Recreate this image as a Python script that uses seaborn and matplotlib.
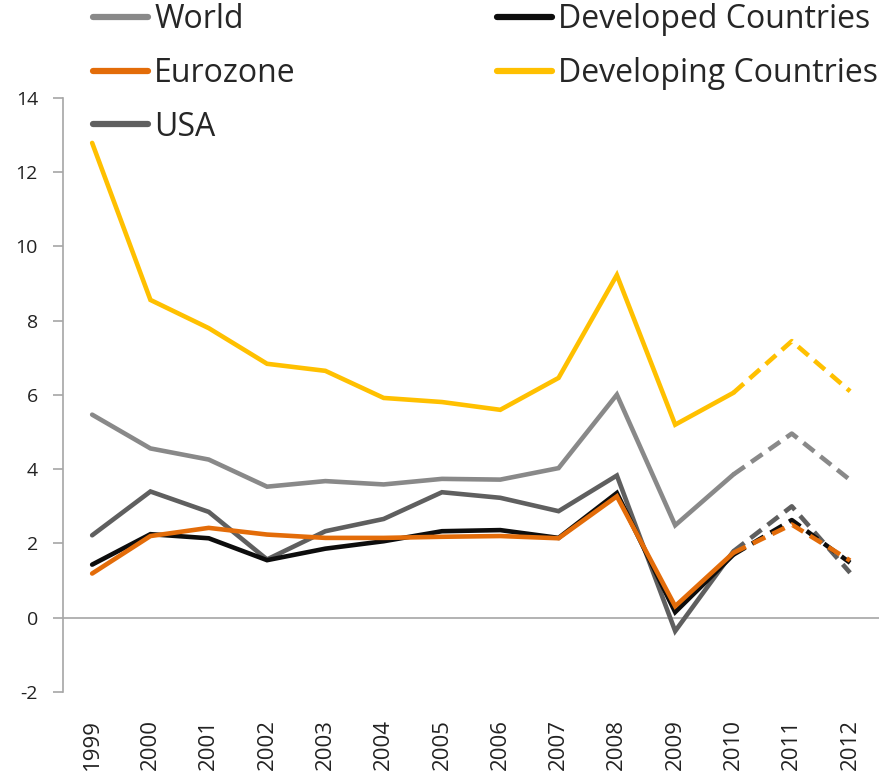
import pandas as pd
import matplotlib
matplotlib.use('Agg')
import matplotlib.pyplot as plt
import seaborn as sns

# datos
years = ['1999', '2000', '2001', '2002', '2003', '2004', '2005', '2006',
         '2007', '2008', '2009', '2010', '2011', '2012']
world = [5.47, 4.56, 4.26, 3.53, 3.68, 3.59, 3.74, 3.72, 4.03, 6.01, 2.49, 3.86, 4.96, 3.71]
developed = [1.43, 2.25, 2.14, 1.55, 1.86, 2.06, 2.33, 2.36, 2.15, 3.36, 0.15, 1.70, 2.63, 1.48]
eurozone = [1.19, 2.20, 2.42, 2.24, 2.15, 2.15, 2.18, 2.20, 2.14, 3.27, 0.31, 1.75, 2.51, 1.54]
developing = [12.79, 8.56, 7.80, 6.84, 6.65, 5.92, 5.81, 5.60, 6.46, 9.23, 5.20, 6.06, 7.45, 6.10]
usa = [2.22, 3.40, 2.85, 1.57, 2.33, 2.66, 3.38, 3.23, 2.87, 3.83, -0.36, 1.79, 3.00, 1.21]

series = {
    'World': (world, '#898989'),
    'Eurozone': (eurozone, '#E36C09'),
    'USA': (usa, '#5F5F5F'),
    'Developed Countries': (developed, '#0D0D0D'),
    'Developing Countries': (developing, '#FFC000'),
}
draw_order = ['World', 'Developing Countries', 'USA', 'Developed Countries', 'Eurozone']
last_actual = '2010'

sns.set_style('white')
plt.rcParams['font.family'] = ['Open Sans', 'DejaVu Sans']
plt.rcParams['axes.unicode_minus'] = False

fig = plt.figure(figsize=(8.81, 7.74), dpi=100)
ax = fig.add_axes([0.0715, 0.106, 0.9265, 0.7674])

cut = years.index(last_actual)
for name in draw_order:
    vals, color = series[name]
    df = pd.DataFrame({'year': years, 'value': vals})
    solid = df.iloc[:cut + 1]
    dashed = df.iloc[cut:]
    sns.lineplot(data=solid, x='year', y='value', color=color, lw=3.3,
                 ax=ax, sort=False, solid_joinstyle='miter')
    sns.lineplot(data=dashed, x='year', y='value', color=color, lw=3.3,
                 ax=ax, sort=False, dashes=False, linestyle=(0, (3, 1.7)))

ax.axhline(0, color='#A6A6A6', lw=1.2, zorder=0)
ax.set_xlim(-0.5, len(years) - 0.5)
ax.set_ylim(-2, 14)
ax.set_yticks(range(-2, 15, 2))
ax.set_xlabel('')
ax.set_ylabel('')
for s in ['top', 'right', 'bottom']:
    ax.spines[s].set_visible(False)
ax.spines['left'].set_color('#A6A6A6')
ax.spines['left'].set_linewidth(1.2)
ax.tick_params(axis='y', left=True, length=7, width=1.2, color='#A6A6A6',
               labelsize=14, labelcolor='#222222', pad=11)
ax.tick_params(axis='x', bottom=False, labelsize=16, labelcolor='#222222',
               labelrotation=90, pad=16)

# leyenda: dos bloques arriba del grafico
def make_legend(names, x):
    handles = [plt.Line2D([], [], color=series[n][1], lw=4.5) for n in names]
    return fig.legend(handles, names, loc='upper left', bbox_to_anchor=(x, 0.996),
                      frameon=False, fontsize=23, handlelength=1.72,
                      handletextpad=0.19, labelspacing=0.65,
                      borderpad=0, borderaxespad=0)

make_legend(['World', 'Eurozone', 'USA'], 0.1056)
make_legend(['Developed Countries', 'Developing Countries'], 0.564)

fig.savefig('out.png', dpi=100)
